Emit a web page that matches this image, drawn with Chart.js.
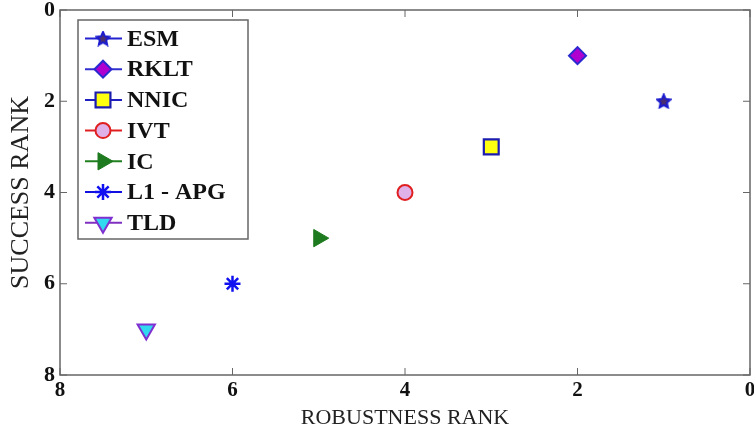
<!DOCTYPE html>
<html>
<head>
<meta charset="utf-8">
<script src="https://cdn.jsdelivr.net/npm/chart.js@4.4.1/dist/chart.umd.min.js"></script>
<style>
  html, body { margin: 0; padding: 0; background: #fff; }
  #wrap { width: 754px; height: 434px; }
</style>
</head>
<body>
<div id="wrap"><canvas id="rank" width="754" height="434"></canvas></div>
<script>
const trackers = ["ESM", "RKLT", "NNIC", "IVT", "IC", "L1 - APG", "TLD"];
const robustness = [1, 2, 3, 4, 5, 6, 7];
const success = [2, 1, 3, 4, 5, 6, 7];
const xTicks = [8, 6, 4, 2, 0];
const yTicks = [0, 2, 4, 6, 8];

// five point star for ESM (chart.js "star" is an asterisk)
function starCanvas() {
  const c = document.createElement("canvas");
  c.width = 16; c.height = 16;
  const g = c.getContext("2d");
  g.beginPath();
  for (let i = 0; i < 10; i++) {
    const r = i % 2 === 0 ? 7 : 3.3;
    const a = -Math.PI / 2 + i * Math.PI / 5;
    g.lineTo(8 + r * Math.cos(a), 8.5 + r * Math.sin(a));
  }
  g.closePath();
  g.fillStyle = "#4a3070";
  g.fill();
  g.lineWidth = 2;
  g.strokeStyle = "#1a1ad0";
  g.stroke();
  return c;
}

const styles = [
  { pointStyle: starCanvas(), radius: 8, rotation: 0, bg: "#4a3070", border: "#1a1ad0", bw: 2, line: "#2222d0" },
  { pointStyle: "rectRot", radius: 8.5, rotation: 0, bg: "#b000d0", border: "#2a2ad0", bw: 2, line: "#3030d0" },
  { pointStyle: "rect", radius: 10.5, rotation: 0, bg: "#ffff10", border: "#1c1cb0", bw: 2.2, line: "#2020c0" },
  { pointStyle: "circle", radius: 7.5, rotation: 0, bg: "#e0b0e8", border: "#e02020", bw: 2, line: "#e02020" },
  { pointStyle: "triangle", radius: 10, rotation: 90, bg: "#1e7a1e", border: "#1e7a1e", bw: 1, line: "#208020" },
  { pointStyle: "star", radius: 8, rotation: 0, bg: "#1010f0", border: "#1010f0", bw: 2.5, line: "#1010e0" },
  { pointStyle: "triangle", radius: 10, rotation: 180, bg: "#30d8f0", border: "#8030d0", bw: 2, line: "#8030c0" },
];

const datasets = trackers.map((name, i) => ({
  label: name,
  data: [{ x: robustness[i], y: success[i] }],
  pointStyle: styles[i].pointStyle,
  pointRadius: styles[i].radius,
  pointRotation: styles[i].rotation,
  backgroundColor: styles[i].bg,
  borderColor: styles[i].border,
  pointBorderWidth: styles[i].bw,
  showLine: false,
}));

// frame, inward ticks and the boxed legend
const boxPlugin = {
  id: "box",
  afterDraw(chart) {
    const { ctx, chartArea: a, scales } = chart;
    ctx.save();
    ctx.strokeStyle = "#666";
    ctx.lineWidth = 1.5;
    ctx.strokeRect(a.left, a.top, a.right - a.left, a.bottom - a.top);
    ctx.lineWidth = 1;
    ctx.beginPath();
    xTicks.forEach(v => {
      const px = scales.x.getPixelForValue(v);
      ctx.moveTo(px, a.bottom); ctx.lineTo(px, a.bottom - 7);
      ctx.moveTo(px, a.top); ctx.lineTo(px, a.top + 7);
    });
    yTicks.forEach(v => {
      const py = scales.y.getPixelForValue(v);
      ctx.moveTo(a.left, py); ctx.lineTo(a.left + 7, py);
      ctx.moveTo(a.right, py); ctx.lineTo(a.right - 7, py);
    });
    ctx.stroke();

    const bx = a.left + 18, by = a.top + 10, bw = 170, bh = 219;
    ctx.fillStyle = "#fff";
    ctx.fillRect(bx, by, bw, bh);
    ctx.strokeStyle = "#666";
    ctx.lineWidth = 1.5;
    ctx.strokeRect(bx, by, bw, bh);

    ctx.font = "bold 24px 'Liberation Serif'";
    ctx.textBaseline = "middle";
    trackers.forEach((name, i) => {
      const s = styles[i];
      const y = by + 18.5 + i * 30.7;
      ctx.strokeStyle = s.line;
      ctx.lineWidth = 2;
      ctx.beginPath();
      ctx.moveTo(bx + 7, y); ctx.lineTo(bx + 44, y);
      ctx.stroke();
      ctx.fillStyle = s.bg;
      ctx.strokeStyle = s.border;
      ctx.lineWidth = s.bw;
      Chart.helpers.drawPoint(ctx, {
        pointStyle: s.pointStyle, radius: s.radius, rotation: s.rotation, borderWidth: s.bw,
      }, bx + 25, y);
      ctx.fillStyle = "#111";
      ctx.fillText(name, bx + 49, y + 1);
    });
    ctx.restore();
  },
};

new Chart(document.getElementById("rank"), {
  type: "scatter",
  data: { datasets: datasets },
  plugins: [boxPlugin],
  options: {
    responsive: false,
    animation: false,
    layout: { autoPadding: false, padding: { top: 10, right: 4, left: 0, bottom: 0 } },
    plugins: { legend: { display: false }, tooltip: { enabled: false } },
    scales: {
      x: {
        type: "linear", min: 0, max: 8, reverse: true,
        afterBuildTicks: s => { s.ticks = xTicks.map(v => ({ value: v })); },
        afterFit: s => { s.height = 59; s.paddingLeft = 0; s.paddingRight = 0; },
        grid: { display: false, drawTicks: false },
        border: { display: false },
        ticks: { padding: 3, color: "#111", maxRotation: 0, font: { family: "'Liberation Serif'", size: 21, weight: "bold" } },
        title: {
          display: true, text: "ROBUSTNESS RANK", color: "#222",
          font: { family: "'Liberation Serif'", size: 22 }, padding: { top: 0, bottom: 3 },
        },
      },
      y: {
        type: "linear", min: 0, max: 8, reverse: true,
        afterBuildTicks: s => { s.ticks = yTicks.map(v => ({ value: v })); },
        afterFit: s => { s.width = 60; s.paddingTop = 0; s.paddingBottom = 0; },
        grid: { display: false, drawTicks: false },
        border: { display: false },
        ticks: { padding: 5, color: "#111", font: { family: "'Liberation Serif'", size: 22, weight: "bold" } },
        title: {
          display: true, text: "SUCCESS RANK", color: "#222",
          font: { family: "'Liberation Serif'", size: 26 }, padding: { top: 6, bottom: 0 },
        },
      },
    },
  },
});
</script>
</body>
</html>
